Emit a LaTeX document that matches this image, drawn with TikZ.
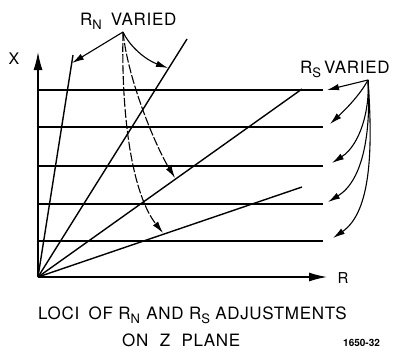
\documentclass[tikz,border=0pt]{standalone}
\usepackage{fontspec}
\setmainfont{TeX Gyre Heros}
\newfontfamily\capfont[LetterSpace=4]{TeX Gyre Heros}
\usetikzlibrary{arrows.meta}
\newcommand{\subdown}[1]{\raisebox{-4.5pt}{\fontsize{13}{13}\selectfont #1}}
\begin{document}
\begin{tikzpicture}[x=1pt,y=-1pt,
  ln/.style={line width=1.4pt},
  ptr/.style={line width=1.1pt,-{Latex[length=12pt,width=6.5pt]}},
  axis/.style={line width=1.4pt,-{Latex[length=18pt,width=9pt]}},
  dsh/.style={dash pattern=on 9pt off 2pt},
  lbl/.style={font=\capfont\fontsize{17}{19}\selectfont, inner sep=0pt},
  small/.style={font=\fontsize{10}{12}\selectfont\bfseries, inner sep=0pt}]
\useasboundingbox (0,0) rectangle (396,349);
% origin and axes
\coordinate (O) at (38,277);
\coordinate (Xtip) at (38,52);
\coordinate (Rtip) at (327,277);
\draw[axis] (O) -- (Xtip);
\draw[axis] (O) -- (Rtip);
\node[lbl, font=\fontsize{16}{18}\selectfont] (xl) at (14,59) {X};
\node[lbl, font=\fontsize{15}{17}\selectfont] (rl) at (343,278) {R};
% horizontal lines
\foreach \i/\y in {1/90,2/127,3/166,4/204,5/241}{
  \coordinate (h\i a) at (38,\y);
  \coordinate (h\i b) at (323,\y);
  \draw[ln] (h\i a) -- (h\i b);
}
% radial lines
\coordinate (L1) at (73,55);
\coordinate (L2) at (187,39);
\coordinate (L3) at (302,89);
\coordinate (L4) at (302,187);
\foreach \p in {L1,L2,L3,L4}{\draw[ln] (O) -- (\p);}
% R_N varied
\node[lbl, anchor=base west] (rnl) at (80,25) {R\subdown{N}\hspace{9pt}VARIED};
\coordinate (rn) at (123,32);
\coordinate (t1) at (72,63);
\coordinate (t2) at (168,68);
\coordinate (t3) at (175,178);
\coordinate (t4) at (163,233);
\draw[ptr] (rn) -- (t1);
\draw[ptr] (rn) .. controls (130,47) and (146,60) .. (t2);
\draw[ptr,dsh] (rn) .. controls (128,80) and (155,145) .. (t3);
\draw[ptr,dsh] (rn) .. controls (121,120) and (133,195) .. (t4);
% R_S varied
\node[lbl, anchor=base west] (rsl) at (300,73) {R\subdown{S}\hspace{3pt}VARIED};
\coordinate (rs) at (368,80);
\coordinate (s1) at (327,90);
\coordinate (s2) at (330,124);
\coordinate (s3) at (332,163);
\coordinate (s4) at (328,202);
\coordinate (s5) at (333,238);
\draw[ptr] (rs) -- (s1);
\draw[ptr] (rs) .. controls (360,95) and (345,110) .. (s2);
\draw[ptr] (rs) .. controls (370,110) and (360,145) .. (s3);
\draw[ptr] (rs) .. controls (371,130) and (364,180) .. (s4);
\draw[ptr] (rs) .. controls (373,150) and (371,212) .. (s5);
% caption
\node[lbl, anchor=base west] (cap1) at (38,319) {LOCI\hspace{4pt} OF R\subdown{N}\hspace{1pt} AND R\subdown{S} ADJUSTMENTS};
\node[lbl, anchor=base west] (cap2) at (122,346) {ON\hspace{6pt} Z\hspace{6pt} PLANE};
\node[small, anchor=base west] (num) at (343,346) {1650-32};
\end{tikzpicture}
\end{document}
